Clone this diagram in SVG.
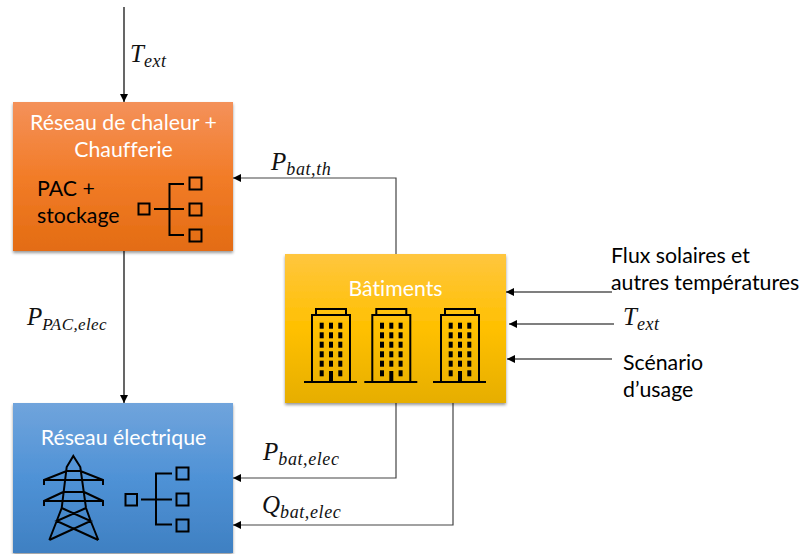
<svg xmlns="http://www.w3.org/2000/svg" xmlns:xlink="http://www.w3.org/1999/xlink" width="803" height="554" viewBox="0 0 803 554">
<style>
.t{font-family:"Lato","Open Sans",sans-serif;font-size:21.3px;font-variant-ligatures:none}
.w{fill:#fff;text-anchor:middle}
.k{fill:#000}
.m{font-family:"Liberation Serif",serif;font-style:italic;font-size:25px;fill:#111}
.s{font-size:18px;letter-spacing:.6px}
.c{fill:none;stroke-width:1.2}
.i{fill:none;stroke:#000;stroke-width:2}
.d{fill:#000}
</style>
<defs>
<linearGradient id="go" x1="0" y1="0" x2="0" y2="1"><stop offset="0" stop-color="#f4915a"/><stop offset="0.5" stop-color="#f27c28"/><stop offset="1" stop-color="#e36c12"/></linearGradient>
<linearGradient id="gy" x1="0" y1="0" x2="0" y2="1"><stop offset="0" stop-color="#ffc63f"/><stop offset="0.5" stop-color="#ffc000"/><stop offset="1" stop-color="#e6ae00"/></linearGradient>
<linearGradient id="gb" x1="0" y1="0" x2="0" y2="1"><stop offset="0" stop-color="#70a4dc"/><stop offset="0.5" stop-color="#4f92d6"/><stop offset="1" stop-color="#3f80c2"/></linearGradient>
<filter id="sh" x="-5%" y="-5%" width="110%" height="110%"><feDropShadow dx="0" dy="2" stdDeviation="1.8" flood-color="#000" flood-opacity="0.4"/></filter>
<marker id="ah" markerUnits="userSpaceOnUse" markerWidth="9" markerHeight="9" refX="8" refY="4" orient="auto"><path d="M0,0L8,4L0,8Z" fill="#000"/></marker>
<g id="bld">
<path class="i" d="M-8,-7V-13H22V-7M-12,60V-7H26V60M-20,60H33"/>
<g class="d">
<rect x="-4.300" y="0.700" width="4" height="6"/><rect x="5" y="0.700" width="4" height="6"/><rect x="14.300" y="0.700" width="4" height="6"/>
<rect x="-4.300" y="10.300" width="4" height="6"/><rect x="5" y="10.300" width="4" height="6"/><rect x="14.300" y="10.300" width="4" height="6"/>
<rect x="-4.300" y="19.700" width="4" height="6"/><rect x="5" y="19.700" width="4" height="6"/><rect x="14.300" y="19.700" width="4" height="6"/>
<rect x="-4.300" y="29.300" width="4" height="6"/><rect x="5" y="29.300" width="4" height="6"/><rect x="14.300" y="29.300" width="4" height="6"/>
<rect x="-4.300" y="38.700" width="4" height="6"/><rect x="5" y="38.700" width="4" height="6"/><rect x="14.300" y="38.700" width="4" height="6"/>
<rect x="-4.300" y="48.300" width="4" height="6"/><rect x="5" y="49" width="4" height="11"/><rect x="14.300" y="48.300" width="4" height="6"/>
</g>
</g>
</defs>

<g id="connectors">
<path class="c" stroke="#000" marker-end="url(#ah)" d="M124,7V102"/>
<path class="c" stroke="#000" marker-end="url(#ah)" d="M124,251V403"/>
<path class="c" stroke="#444" marker-end="url(#ah)" d="M396,254V178H233"/>
<path class="c" stroke="#444" marker-end="url(#ah)" d="M396,403V478H233"/>
<path class="c" stroke="#444" marker-end="url(#ah)" d="M453,403V525H233"/>
<path class="c" stroke="#000" marker-end="url(#ah)" d="M612,292H506"/>
<path class="c" stroke="#000" marker-end="url(#ah)" d="M614,324H509"/>
<path class="c" stroke="#000" marker-end="url(#ah)" d="M612,359H507"/>
</g>

<g id="node-chaleur">
<rect x="13" y="102" width="220" height="149" fill="url(#go)" filter="url(#sh)"/>
<text class="t w" x="123.500" y="130">Réseau de chaleur +</text>
<text class="t w" x="123.500" y="157">Chaufferie</text>
<text class="t k" x="37" y="196">PAC +</text>
<text class="t k" x="37" y="223">stockage</text>
<g class="i">
<rect x="138.500" y="203.500" width="11" height="11"/>
<rect x="189.500" y="177.500" width="12" height="12"/>
<rect x="189.500" y="203.500" width="12" height="12"/>
<rect x="189.500" y="229.500" width="12" height="12"/>
<path d="M154,209H184M184,184H169.500V235H184"/>
</g>
</g>

<g id="node-batiments">
<rect x="285" y="254" width="221" height="149" fill="url(#gy)" filter="url(#sh)"/>
<text class="t w" x="395.500" y="296">Bâtiments</text>
<use xlink:href="#bld" href="#bld" x="324" y="322"/>
<use xlink:href="#bld" href="#bld" x="384.300" y="322"/>
<use xlink:href="#bld" href="#bld" x="453" y="322"/>
</g>

<g id="node-electrique">
<rect x="13" y="403" width="220" height="150" fill="url(#gb)" filter="url(#sh)"/>
<text class="t w" x="123.500" y="445">Réseau électrique</text>
<g class="i">
<path d="M49.300,540L56.700,521L61.700,508L66.700,467L73.300,456L80.300,467L86,508L90.700,521L98.300,540M66.700,471H80.300M44,485V480L66.700,471M103,485V480L80.300,471M44,480H103M44,506V501L63.300,492M103,506V501L84,492M63.300,492H84M44,501H103M61.700,508L90.700,521L49.300,540M86,508L56.700,521L98.300,540"/>
<rect x="125.500" y="494" width="11.500" height="11.500"/>
<rect x="176.500" y="467.500" width="12" height="12"/>
<rect x="176.500" y="493.500" width="12" height="12"/>
<rect x="176.500" y="519.500" width="12" height="12"/>
<path d="M141,499.500H172M172,473.500H156V524.500H172"/>
</g>
</g>

<g id="labels">
<text class="m" x="130" y="62">T<tspan class="s" dy="5">ext</tspan></text>
<text class="m" x="271" y="170">P<tspan class="s" dy="5">bat,th</tspan></text>
<text class="m" x="27" y="325">P<tspan class="s" dy="5" style="font-size:17px;letter-spacing:.4px">PAC,elec</tspan></text>
<text class="m" x="263" y="460">P<tspan class="s" dy="5">bat,elec</tspan></text>
<text class="m" x="262" y="513">Q<tspan class="s" dy="5">bat,elec</tspan></text>
<text class="m" x="623" y="325">T<tspan class="s" dy="5">ext</tspan></text>
<text class="t k" x="611" y="263">Flux solaires et</text>
<text class="t k" x="611" y="290">autres températures</text>
<text class="t k" x="623" y="370">Scénario</text>
<text class="t k" x="623" y="397">d’usage</text>
</g>
</svg>
